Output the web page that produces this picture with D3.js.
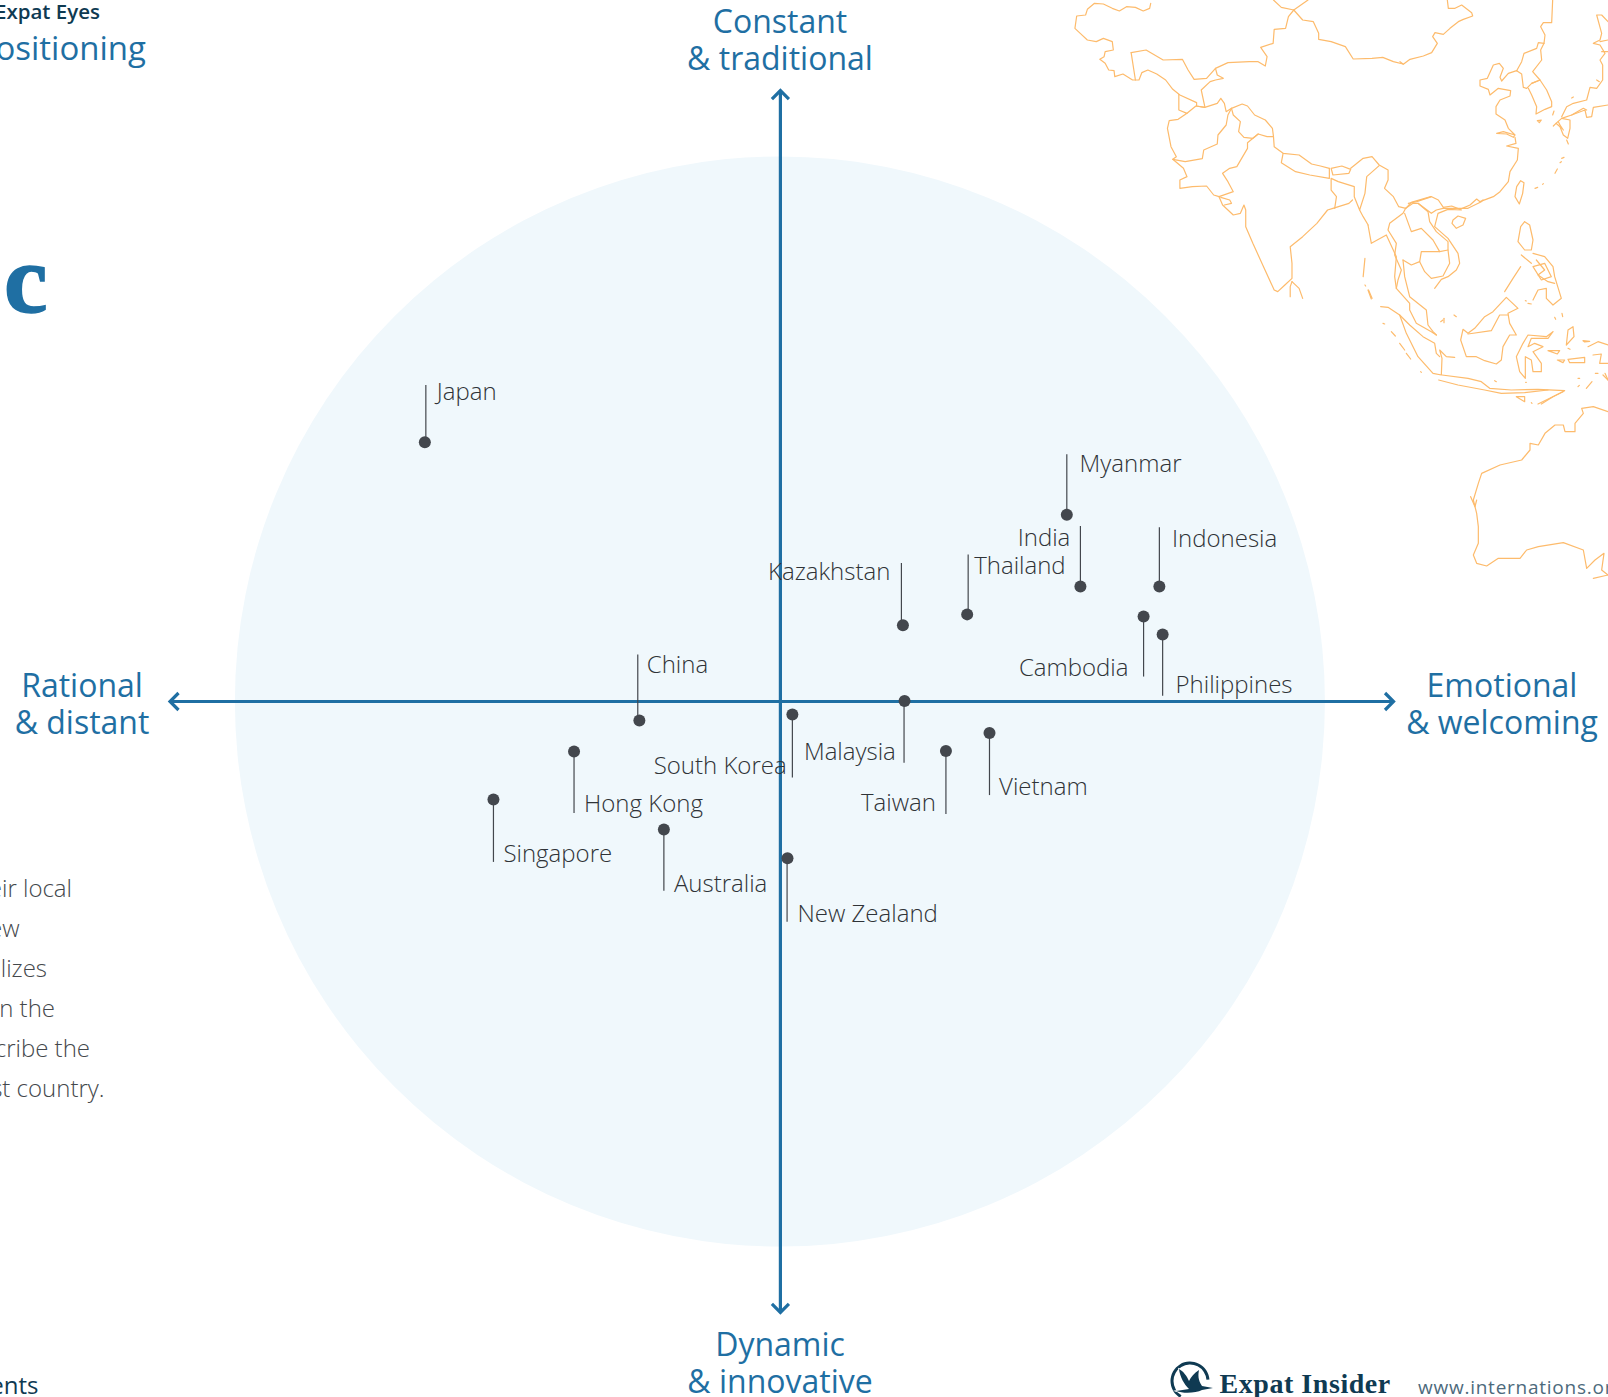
<!DOCTYPE html>
<html><head><meta charset="utf-8">
<script src="https://cdn.jsdelivr.net/npm/d3@7"></script>
<style>html,body{margin:0;padding:0;background:#fff;overflow:hidden}svg{display:block}text{font-family:"Open Sans",sans-serif}</style>
</head><body><svg id="c" width="1608" height="1397"></svg>
<script>
// ---- data ----
const countries = ["Japan","Myanmar","India","Indonesia","Thailand","Kazakhstan","Cambodia","Philippines","China","South Korea","Malaysia","Vietnam","Taiwan","Hong Kong","Singapore","Australia","New Zealand"];
const warmth    = [-65.3,52.6,55.1,69.6,34.3,22.5,66.7,70.2,-25.9,2.2,22.8,38.4,30.4,-37.9,-52.7,-21.4,1.3];
const constancy = [47.6,34.3,21.1,21.1,16.0,14.0,15.6,12.3,-3.5,-2.4,0.1,-5.8,-9.1,-9.2,-18.0,-23.5,-28.8];
// label layout, in the order of `countries`
const leaderLen = [-57.4,-60.4,-60.6,-59.4,-60,-62.3,60,61.3,-66,63,61.7,62,63,61.4,62.4,61.4,63.4];
const leaderDx  = [1,0,0,0,1,-1.5,0,0,-1.6,0,-.5,0,0,0,0,0,-.4];
const labelDx   = [12,12.8,-10.1,12.6,7,-12.6,-15.1,12.9,7.4,-5.7,-8.7,9.6,-10,10,10,10,10];
const labelDy   = [-50,-50.7,-48.6,-47.7,-48,-53.6,51,50.3,-55.8,51.7,50.7,54,52.4,52,54,55,56];
const labelEnd  = ["India","Kazakhstan","Cambodia","South Korea","Malaysia","Taiwan"];
const axisTop = ["Constant","& traditional"], axisBottom = ["Dynamic","& innovative"],
      axisLeft = ["Rational","& distant"], axisRight = ["Emotional","& welcoming"];
const introLines = ["eir local","ew","lizes","n the","cribe the","st country."];

// map outlines (crop units)
const mapWest = [
[[283,10],[280,25],[262,33],[240,22],[215,20],[195,33],[175,25],[150,12],[125,10],[105,28],[100,45],[75,48],[70,85],[85,100],[105,120],[130,125],[150,115],[175,125],[178,150],[155,155],[152,170],[140,178],[155,190],[165,210],[180,212],[182,230],[205,222],[232,240],[250,240],[258,218],[275,210],[300,222],[325,240],[345,268],[365,285],[412,308],[412,318],[435,322],[470,310],[480,295],[490,310],[495,335],[510,325],[540,312],[555,318],[575,345],[605,360],[625,385],[628,410],[630,440],[655,460],[700,465],[735,492],[760,498],[785,505]],
[[228,158],[270,150],[318,180],[372,178],[388,210],[405,238],[440,235],[465,205],[500,188],[560,185],[585,185],[605,198],[610,170],[592,142],[627,130],[630,88],[662,85],[670,50],[685,30],[725,0]],
[[628,0],[650,22],[685,30]],
[[228,158],[240,240]],
[[465,205],[470,225],[487,235],[465,240],[450,245],[425,270],[435,320]],
[[685,30],[710,60],[740,65],[755,100],[755,118],[790,125],[830,140],[852,177],[905,175],[935,172],[965,185],[992,192]],
[[362,283],[362,330],[385,340],[360,358],[335,362],[330,385],[340,440],[355,470],[345,478],[380,485],[428,476],[432,450],[470,432],[472,405],[495,375],[500,345],[510,325]],
[[385,340],[410,318],[435,322]],
[[345,478],[375,505],[385,530],[365,540],[365,565],[400,560],[440,558],[460,585],[475,590],[515,575],[500,545],[485,520],[505,505],[525,500],[555,445],[555,428],[585,402],[610,410],[628,410]],
[[475,590],[485,615],[515,645],[535,640],[545,615],[550,630],[550,680],[570,730],[600,800],[630,870],[640,875],[660,855],[680,835],[680,790],[675,740],[710,710],[750,670],[780,630],[795,625],[840,610],[850,600]],
[[480,592],[505,600],[510,610],[490,615]],
[[510,325],[515,345],[535,365],[530,395],[545,412],[570,415],[585,402]],
[[655,460],[650,488],[690,515],[730,525],[785,535],[785,505]],
[[790,505],[795,525],[840,520],[845,508],[820,498],[790,505]],
[[845,505],[880,475],[905,470],[925,495],[950,510],[950,540],[940,565],[965,590],[980,620],[1000,625],[1015,607],[1070,590]],
[[925,497],[890,530],[885,580],[870,630],[855,590],[855,560],[810,545],[790,535],[790,570],[805,590],[800,625]],
[[870,630],[880,650],[894,675]],
[[680,845],[700,865],[710,895]],[[675,890],[675,860],[680,845]],
[[885,775],[880,830]],[[885,855],[887,858]],[[895,870],[905,895]]
];
const mapNorthEast = [
[[0,185],[10,193],[30,178],[70,168],[95,158],[112,130],[98,110],[105,98],[130,103],[150,85],[175,65],[190,58],[218,48],[215,38],[185,15],[165,25],[145,25],[142,0]],
[[458,0],[455,68],[430,68],[422,80],[435,105],[432,130],[415,128],[410,145],[372,160],[365,185],[350,212]],
[[350,212],[365,222],[370,262],[380,265],[395,250],[420,240],[398,215],[425,180],[422,150],[432,130]],
[[395,250],[420,240],[440,270],[455,305],[455,320],[435,328],[408,342],[410,320],[395,285],[385,265]],
[[350,212],[325,220],[305,243],[300,232],[310,205],[298,190],[280,195],[262,235],[240,240],[240,258],[265,268],[270,285],[295,265],[332,272],[330,288],[300,300],[288,320],[288,342],[315,360],[325,385],[345,405],[340,412],[320,402],[290,400],[310,395],[345,405]],
[[345,412],[348,430],[320,438],[355,445],[352,480],[330,515],[325,545],[300,575],[280,590],[240,605],[230,597],[210,615],[180,628],[155,618],[130,622],[115,600],[95,590],[50,605],[25,610]],
[[350,560],[362,542],[372,548],[368,580],[358,612],[345,590],[350,560]],
[[405,565],[413,562]],[[428,553],[430,551]],[[465,520],[472,507]],[[480,488],[484,485]],[[485,475],[492,472]],[[515,294],[520,291]],[[458,345],[462,333]],[[412,362],[424,360],[418,368],[412,362]],[[500,420],[505,432]],
[[485,350],[500,320],[520,310],[560,300],[570,262],[590,265],[608,240],[608,195],[600,180],[615,160],[600,135],[580,130],[600,120],[605,100],[590,45],[605,45],[624,65]],
[[624,315],[580,322],[575,350],[560,352],[555,330],[515,345],[485,355],[468,370],[460,378]],
[[485,355],[510,360],[510,385],[503,415],[490,405],[480,380],[468,370]],
[[475,365],[485,385],[478,372],[490,390]],
[[515,345],[550,325],[560,330]],
[[600,125],[624,120]],[[605,155],[624,155]],[[590,240],[598,245]]
];
const mapSouthEast = [
[[135,10],[150,10],[190,40],[205,30],[225,25],[270,25],[300,25],[340,5],[345,0]],
[[255,60],[270,48],[293,55],[285,75],[265,85],[252,70],[255,60]],
[[280,30],[240,28],[210,40],[200,80],[240,115],[270,160],[275,190],[265,210],[240,230],[220,238],[200,265]],
[[110,40],[130,95],[160,85],[195,120],[215,155],[160,155],[155,185],[130,195],[105,180]],
[[150,10],[180,35],[185,65],[205,95],[240,125],[240,150],[215,155]],
[[155,185],[170,215],[190,235],[225,228],[245,190],[240,150]],
[[113,25],[105,40],[65,70],[60,90],[85,130],[80,165],[100,210],[90,240],[85,265],[125,310],[125,330],[145,370],[190,395],[205,405]],
[[135,10],[113,25]],
[[105,180],[110,230],[125,290],[175,330],[180,375],[195,395],[205,405]],
[[0,75],[10,130],[55,105],[85,170],[80,230],[85,265]],
[[0,270],[10,297]],
[[38,320],[60,322],[95,345],[115,400],[150,470],[195,520],[220,525],[222,475],[215,450],[235,470],[260,472]],
[[95,345],[125,375],[165,410],[200,430],[205,460],[215,470]],
[[222,525],[300,535],[340,545],[365,565],[430,570],[510,568],[590,572],[555,590],[520,612]],
[[212,540],[270,555],[350,570],[400,580],[470,578],[540,570]],
[[285,388],[278,420],[295,470],[325,470],[350,482],[385,492],[400,480],[405,440],[425,405],[445,405],[425,370],[420,340],[450,325],[415,292],[375,335],[350,350],[320,385],[300,400],[285,388]],
[[300,402],[370,392],[395,345],[420,345]],
[[410,275],[435,235],[458,200]],
[[470,65],[485,75],[495,120],[490,150],[470,150],[450,125],[458,80],[470,65]],
[[460,165],[490,190]],
[[495,160],[530,170],[555,200],[560,230],[580,295],[555,315],[535,295],[535,265],[510,270],[495,300]],
[[495,200],[520,240],[550,230],[530,190],[495,200]],[[505,180],[530,210],[510,225],[540,245],[560,250]],
[[555,395],[535,410],[480,405],[465,430],[445,470],[455,515],[472,535],[472,470],[490,480],[495,515],[520,515],[520,490],[495,455],[525,440],[500,430],[480,440],[490,415],[540,415],[555,395]],
[[600,390],[615,380],[618,410],[595,435],[600,390]],
[[645,422],[665,424],[650,426],[645,422]],
[[660,440],[690,425],[720,435]],[[675,465],[700,462],[695,490],[720,490]],
[[540,452],[575,452],[568,462],[540,452]],[[568,480],[590,480],[585,488],[568,480]],[[600,478],[650,472],[650,488],[605,488],[600,478]],
[[445,590],[470,590],[470,605],[445,590]],[[510,612],[585,575]],
[[630,560],[634,556]],[[655,565],[672,545]],[[45,370],[50,372]],[[70,395],[82,408]],[[95,430],[110,450]],[[115,460],[128,477]],[[158,515],[160,517]],[[218,365],[225,360]],[[228,355],[228,368]],[[258,345],[265,350]],[[480,310],[490,312]],[[472,302],[475,303]],[[560,352],[563,358]],[[582,340],[584,350]],[[600,445],[606,448]],[[705,525],[720,540]],[[682,520],[690,520]],[[630,535],[635,535]],[[380,542],[385,545]],[[490,608],[492,610]],[[473,547],[475,547]]
];
const mapAustralia = [
[[924,395],[880,380],[845,385],[850,400],[825,430],[825,455],[795,455],[790,435],[765,435],[735,460],[715,495],[690,490],[690,510],[665,540],[600,555],[545,580],[535,610],[520,660],[530,700],[535,740],[535,790],[520,825],[530,850],[560,858],[595,835],[660,835],[680,810],[715,800],[790,788],[850,810],[860,865],[885,840],[912,820],[905,870],[924,885]],
[[512,650],[525,680],[530,660]],
[[880,895],[924,885]],[[915,280],[924,300]]
];

// ---- drawing ----
const blue = "#1f6fa3", ink = "#43474d";
const svg = d3.select("#c");
const cx = 780.4, cy = 701.5, R = 544.5;
const x = d3.scaleLinear().domain([-100,100]).range([cx-R,cx+R]);
const y = d3.scaleLinear().domain([-100,100]).range([cy+R,cy-R]);

svg.append("circle").attr("cx",x(0)-.5).attr("cy",y(0)).attr("r",545).attr("fill","#f0f8fc");

function drawMap(traces,dx,dy,rx,ry){
  const sx=d3.scaleLinear().domain(dx).range(rx), sy=d3.scaleLinear().domain(dy).range(ry);
  const line = d3.line().x(d=>sx(d[0])).y(d=>sy(d[1]));
  svg.append("g").selectAll("path").data(traces).join("path")
    .attr("d",line).attr("fill","none").attr("stroke","#fdbb6c").attr("stroke-width",1.2).attr("stroke-linejoin","round").attr("stroke-linecap","round");
}
drawMap(mapWest,[0,1568],[0,900],[1050,1608],[0,300]);
drawMap(mapNorthEast,[0,624],[0,630],[1400,1608],[0,210]);
drawMap(mapSouthEast,[0,720],[0,660],[1368,1608],[200,420]);
drawMap(mapAustralia,[0,924],[0,960],[1300,1608],[280,600]);

// axes
const axisExt = {l:-112.1,r:112.6,t:112.2,b:-112.2};
const ax = svg.append("g").attr("fill","none").attr("stroke",blue).attr("stroke-width",3.2);
ax.append("line").attr("x1",x(axisExt.l)).attr("x2",x(axisExt.r)).attr("y1",y(0)).attr("y2",y(0));
ax.append("line").attr("x1",x(0)).attr("x2",x(0)).attr("y1",y(axisExt.t)).attr("y2",y(axisExt.b));
const a = 8.5;
const head = d3.line();
const xl=x(axisExt.l),xr=x(axisExt.r),yt=y(axisExt.t),yb=y(axisExt.b);
ax.append("path").attr("d",head([[xl+a,y(0)-a],[xl,y(0)],[xl+a,y(0)+a]]));
ax.append("path").attr("d",head([[xr-a,y(0)-a],[xr,y(0)],[xr-a,y(0)+a]]));
ax.append("path").attr("d",head([[x(0)-a,yt+a],[x(0),yt],[x(0)+a,yt+a]]));
ax.append("path").attr("d",head([[x(0)-a,yb-a],[x(0),yb],[x(0)+a,yb-a]]));

function two(lines,px,py){
  svg.append("g").selectAll("text").data(lines).join("text")
    .attr("x",px).attr("y",(d,i)=>py+i*37).attr("text-anchor","middle")
    .attr("font-size",32).attr("fill",blue).text(d=>d);
}
two(axisTop,780,33); two(axisBottom,780,1356); two(axisLeft,82,697); two(axisRight,1502,697);

// countries
const rows = countries.map((n,i)=>({n,vx:warmth[i],vy:constancy[i],len:leaderLen[i],ldx:leaderDx[i],dx:labelDx[i],dy:labelDy[i]}));
const g = svg.append("g");
g.selectAll("line").data(rows).join("line")
  .attr("x1",d=>x(d.vx)+d.ldx).attr("x2",d=>x(d.vx)+d.ldx)
  .attr("y1",d=>y(d.vy)).attr("y2",d=>y(d.vy)+d.len)
  .attr("stroke",ink).attr("stroke-width",1.2);
g.selectAll("circle").data(rows).join("circle")
  .attr("cx",d=>x(d.vx)).attr("cy",d=>y(d.vy)).attr("r",6).attr("fill",ink);
g.selectAll("text").data(rows).join("text")
  .attr("x",d=>x(d.vx)+d.dx).attr("y",d=>y(d.vy)+d.dy+8)
  .attr("text-anchor",d=>labelEnd.includes(d.n)?"end":"start")
  .attr("font-size",24).attr("font-weight",300).attr("fill","#2f3337").text(d=>d.n);

// clipped page furniture
const navy="#0f3a52";
svg.append("text").attr("x",100).attr("y",18.5).attr("text-anchor","end").attr("font-size",20.5).attr("font-weight",600).attr("fill",navy).text("Expat Eyes");
svg.append("text").attr("x",146).attr("y",60).attr("text-anchor","end").attr("font-size",33).attr("fill",blue).text("ositioning");
svg.append("text").attr("x",47.5).attr("y",312).attr("text-anchor","end").attr("font-size",98).attr("font-weight",700).style("font-family","'Liberation Serif',serif").attr("fill",blue).attr("stroke",blue).attr("stroke-width",1.5).text("c");
svg.append("g").selectAll("text").data(introLines).join("text")
  .attr("x",(d,i)=>[72,19.5,47,55,90,104.5][i]).attr("y",(d,i)=>897+i*40).attr("text-anchor","end")
  .attr("font-size",24).attr("font-weight",300).attr("fill","#44484c").text(d=>d);
svg.append("text").attr("x",38.5).attr("y",1394).attr("text-anchor","end").attr("font-size",24).attr("font-weight",400).attr("fill",navy).text("ents");

// footer logo
const logo = svg.append("g").attr("transform","translate(1190,1381)");
logo.append("path").attr("d",d3.arc()({innerRadius:16.5,outerRadius:19.5,startAngle:-2.6,endAngle:1.5})).attr("fill",navy);
logo.append("path").attr("d","M-11,-12 C-10,-4 -6,3 -1,8 L-14,10 C-6,13 6,12 12,9 L23,7 L12,5 C8,-1 8,-6 9,-11 C4,-8 1,-4 -1,0 C-3,-5 -7,-10 -11,-12 Z").attr("fill",navy).attr("stroke","#fff").attr("stroke-width",1.5).attr("paint-order","stroke");
svg.append("text").attr("x",1219.5).attr("y",1393).attr("font-size",28).attr("font-weight",700).style("font-family","'Liberation Serif',serif").attr("letter-spacing",.55).attr("fill",navy).text("Expat Insider");
svg.append("text").attr("x",1418).attr("y",1394).attr("font-size",19).attr("font-weight",400).attr("letter-spacing",.75).attr("fill","#4d6a7c").text("www.internations.org");
</script></body></html>
